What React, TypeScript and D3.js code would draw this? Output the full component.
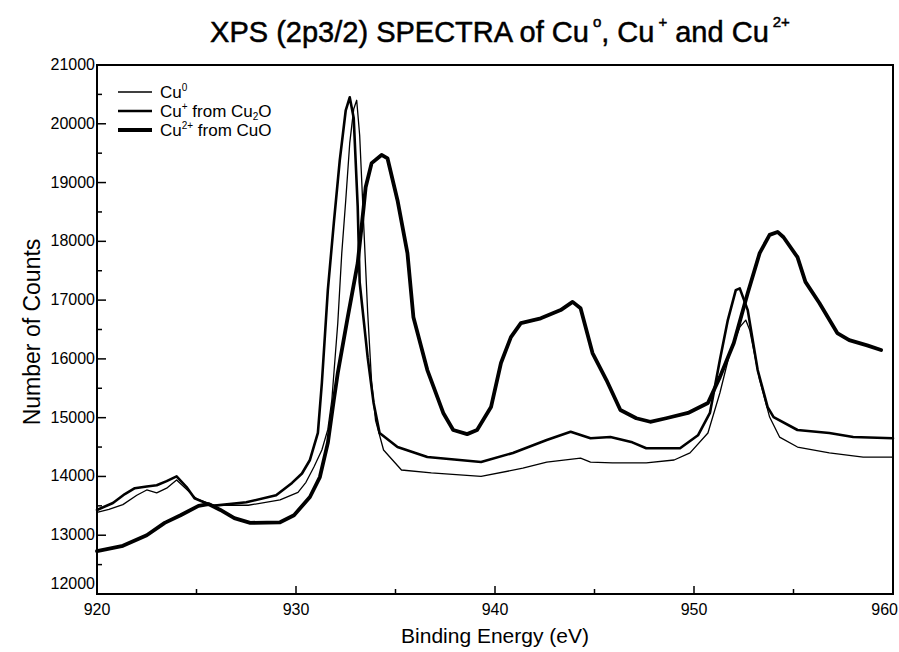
import React from 'react';
import * as d3 from 'd3';

// binding energy (eV), number of counts
const cu0Points: [number, number][] = [
  [920.0, 13390], [920.6, 13440], [921.3, 13520], [922.0, 13680], [922.5, 13770],
  [923.0, 13720], [923.5, 13800], [924.0, 13940], [924.5, 13780], [925.0, 13620],
  [925.9, 13510], [927.6, 13510], [929.2, 13600], [930.1, 13730], [930.5, 13900],
  [930.9, 14160], [931.3, 14450], [931.6, 14800], [931.8, 15300], [932.1, 16610],
  [932.3, 17800], [932.5, 18700], [932.7, 19670], [932.9, 20250], [933.05, 20400],
  [933.2, 19800], [933.4, 18300], [933.6, 16800], [933.8, 15600], [934.0, 14950],
  [934.4, 14450], [935.3, 14110], [936.8, 14060], [939.3, 14000], [941.4, 14140],
  [942.6, 14245], [944.3, 14310], [944.8, 14245], [945.9, 14230], [947.6, 14230],
  [949.0, 14280], [949.8, 14400], [950.7, 14740], [951.3, 15420], [951.8, 16100],
  [952.3, 16540], [952.6, 16660], [952.8, 16490], [953.3, 15640], [953.8, 15010],
  [954.3, 14670], [955.2, 14500], [956.8, 14400], [958.5, 14330], [960.0, 14330],
];

const cu1Points: [number, number][] = [
  [920.0, 13430], [920.8, 13548], [921.4, 13700], [921.9, 13800], [922.5, 13830],
  [923.0, 13850], [923.5, 13920], [924.0, 14000], [924.5, 13820], [924.9, 13630],
  [925.8, 13500], [927.5, 13560], [929.0, 13680], [929.8, 13890], [930.3, 14050],
  [930.7, 14280], [931.1, 14740], [931.3, 15590], [931.6, 17170], [931.9, 18310],
  [932.2, 19380], [932.5, 20230], [932.7, 20450], [932.9, 20100], [933.1, 18600],
  [933.2, 17300], [933.6, 16030], [933.9, 15250], [934.2, 14740], [935.1, 14500],
  [936.6, 14330], [939.3, 14245], [940.9, 14400], [942.6, 14620], [943.8, 14760],
  [944.8, 14650], [945.8, 14670], [946.9, 14580], [947.6, 14480], [949.3, 14480],
  [950.2, 14700], [950.8, 15080], [951.3, 15980], [951.7, 16660], [952.1, 17170],
  [952.3, 17200], [952.7, 16830], [953.2, 15810], [953.7, 15180], [954.0, 15010],
  [955.2, 14790], [956.8, 14740], [958.0, 14670], [960.0, 14650],
];

const cu2Points: [number, number][] = [
  [920.0, 12730], [921.3, 12820], [922.5, 13000], [923.4, 13210], [924.2, 13340],
  [925.1, 13500], [925.6, 13530], [926.2, 13430], [926.9, 13290], [927.7, 13210],
  [929.2, 13220], [929.9, 13340], [930.7, 13650], [931.2, 13990], [931.6, 14570],
  [931.9, 15300], [932.1, 15760], [932.6, 16710], [933.1, 17630], [933.4, 18580],
  [933.5, 18920], [933.8, 19330], [934.3, 19470], [934.6, 19410], [935.1, 18700],
  [935.6, 17800], [935.9, 16710], [936.6, 15810], [937.4, 15080], [937.9, 14790],
  [938.6, 14720], [939.1, 14790], [939.8, 15180], [940.3, 15930], [940.8, 16370],
  [941.3, 16610], [942.3, 16690], [943.3, 16830], [943.9, 16970], [944.3, 16860],
  [944.9, 16100], [945.6, 15640], [946.3, 15130], [947.1, 14990], [947.8, 14930],
  [948.6, 14990], [949.7, 15080], [950.7, 15250], [951.3, 15690], [952.0, 16270],
  [952.7, 17120], [953.3, 17800], [953.8, 18110], [954.2, 18160], [954.5, 18070],
  [955.2, 17730], [955.6, 17310], [956.3, 16950], [957.2, 16440], [957.8, 16320],
  [958.7, 16230], [959.4, 16150],
];

const xTicks = [920, 930, 940, 950, 960];
const xMinorTicks = [925, 935, 945, 955];
const yTicks = [12000, 13000, 14000, 15000, 16000, 17000, 18000, 19000, 20000, 21000];
const yMinorTicks = [12500, 13500, 14500, 15500, 16500, 17500, 18500, 19500, 20500];

const FONT = "'Liberation Sans', Arial, Helvetica, sans-serif";

const left = 97;
const right = 893;
const top = 65;
const bottom = 594;

export default function App() {
  const x = d3.scaleLinear().domain([920, 960]).range([left, right]);
  const y = d3.scaleLinear().domain([12000, 21000]).range([bottom, top]);
  const line = d3.line<[number, number]>().x(d => x(d[0])).y(d => y(d[1]));

  const series = [
    { pts: cu0Points, w: 1.3 },
    { pts: cu1Points, w: 2.6 },
    { pts: cu2Points, w: 3.8 },
  ];

  return (
    <svg width={899} height={652} style={{ position: 'absolute', left: 0, top: 0, background: '#fff' }}
      fontFamily={FONT}>
      <rect x={0} y={0} width={899} height={652} fill="#fff" />

      {/* title */}
      <text x={500} y={42} fontSize={29} textAnchor="middle" fill="#000" stroke="#000" strokeWidth={0.5}>
        XPS (2p3/2) SPECTRA of Cu
        <tspan fontSize={15} dy={-15} dx={4}>o</tspan>
        <tspan dy={15}>, Cu</tspan>
        <tspan fontSize={15} dy={-15} dx={4}>+</tspan>
        <tspan dy={15}> and Cu</tspan>
        <tspan fontSize={15} dy={-15} dx={4}>2+</tspan>
      </text>

      {/* frame */}
      <rect x={left} y={top} width={right - left} height={bottom - top} fill="none" stroke="#000" strokeWidth={2} />

      {/* y ticks */}
      {yTicks.map(t => (
        <g key={'y' + t}>
          <line x1={left} x2={left + 9} y1={y(t)} y2={y(t)} stroke="#000" strokeWidth={1.5} />
          <text x={left - 2} y={t === 12000 ? y(t) - 5 : y(t) + 5} fontSize={16} textAnchor="end">{t}</text>
        </g>
      ))}
      {yMinorTicks.map(t => (
        <line key={'ym' + t} x1={left} x2={left + 5} y1={y(t)} y2={y(t)} stroke="#000" strokeWidth={1.5} />
      ))}

      {/* x ticks */}
      {xTicks.map(t => (
        <g key={'x' + t}>
          <line x1={x(t)} x2={x(t)} y1={bottom} y2={bottom - 8} stroke="#000" strokeWidth={1.5} />
          <text x={t === 960 ? 898 : x(t)} y={bottom + 21} fontSize={16}
            textAnchor={t === 960 ? 'end' : 'middle'}>{t}</text>
        </g>
      ))}
      {xMinorTicks.map(t => (
        <line key={'xm' + t} x1={x(t)} x2={x(t)} y1={bottom} y2={bottom - 5} stroke="#000" strokeWidth={1.5} />
      ))}

      {/* axis titles */}
      <text x={495} y={643} fontSize={21} textAnchor="middle">Binding Energy (eV)</text>
      <text transform="translate(40,332) rotate(-90)" fontSize={23} textAnchor="middle">Number of Counts</text>

      {/* spectra */}
      {series.map((s, i) => (
        <path key={i} d={line(s.pts) || ''} fill="none" stroke="#000" strokeWidth={s.w}
          strokeLinejoin="round" strokeLinecap="round" />
      ))}

      {/* legend */}
      <g fontSize={17}>
        <line x1={118} x2={152} y1={92} y2={92} stroke="#000" strokeWidth={1.3} />
        <text x={160} y={98}>Cu<tspan fontSize={10} dy={-7}>0</tspan></text>
        <line x1={118} x2={152} y1={111} y2={111} stroke="#000" strokeWidth={2.6} />
        <text x={160} y={117}>Cu<tspan fontSize={10} dy={-7}>+</tspan><tspan dy={7}> from Cu</tspan><tspan fontSize={10} dy={3}>2</tspan><tspan dy={-3}>O</tspan></text>
        <line x1={118} x2={152} y1={130} y2={130} stroke="#000" strokeWidth={3.8} />
        <text x={160} y={136}>Cu<tspan fontSize={10} dy={-7}>2+</tspan><tspan dy={7}> from CuO</tspan></text>
      </g>
    </svg>
  );
}
